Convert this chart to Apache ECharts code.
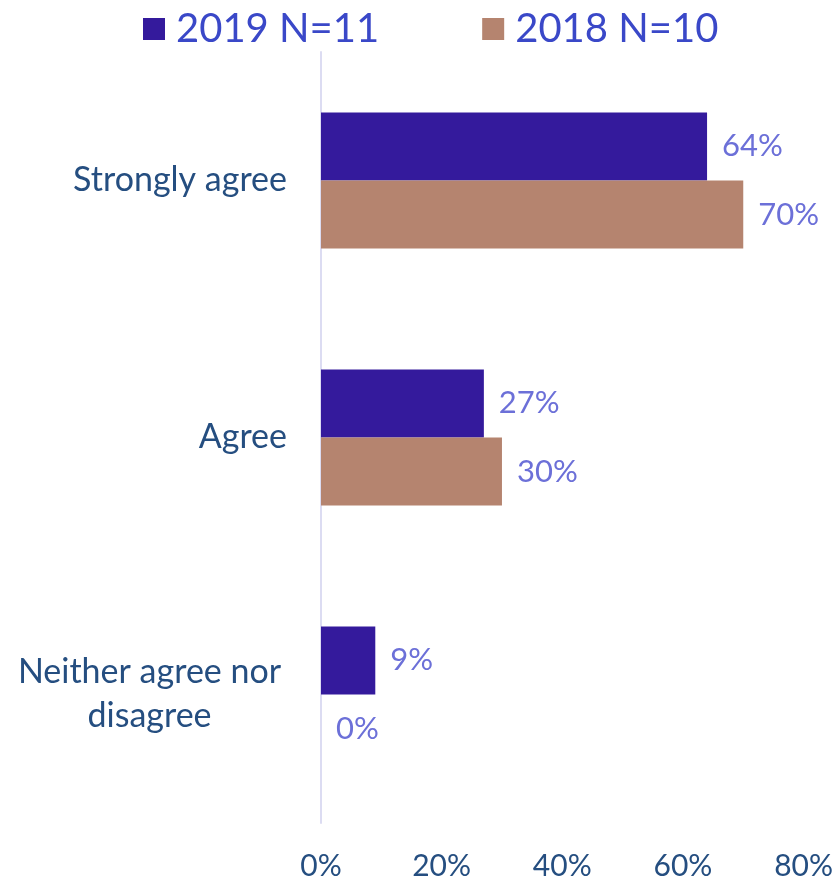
<!DOCTYPE html>
<html>
<head>
<meta charset="utf-8">
<script src="https://cdn.jsdelivr.net/npm/echarts@6/dist/echarts.min.js"></script>
<style>
  html, body { margin: 0; padding: 0; background: #fff; }
  #chart { width: 836px; height: 885px; }
</style>
</head>
<body>
<div id="chart"></div>
<script>
const categories = ['Strongly agree', 'Agree', 'Neither agree nor disagree']
const values2019 = [64, 27, 9]
const values2018 = [70, 30, 0]
const xTicks = [0, 20, 40, 60, 80]

const font = 'Lato'
const chart = echarts.init(document.getElementById('chart'))

function barSeries(name, data, color) {
  return {
    name: name,
    type: 'bar',
    data: data,
    barGap: '0%',
    barCategoryGap: '47%',
    itemStyle: { color: color },
    label: {
      show: true,
      position: 'right',
      distance: 15,
      formatter: '{c}%',
      color: '#6c70d8',
      fontSize: 31,
      fontFamily: font
    }
  }
}

chart.setOption({
  animation: false,
  legend: {
    top: 4,
    left: 138,
    itemWidth: 22,
    itemHeight: 22,
    itemGap: 103,
    icon: 'rect',
    textStyle: { color: '#3a48c8', fontSize: 40, fontFamily: font, padding: [0, 0, 0, 6] }
  },
  grid: { left: 321, right: 31, top: 52, bottom: 62, containLabel: false },
  xAxis: {
    type: 'value',
    min: xTicks[0],
    max: xTicks[xTicks.length - 1],
    interval: 20,
    splitLine: { show: false },
    axisLine: { show: false },
    axisTick: { show: false },
    axisLabel: {
      formatter: '{value}%',
      color: '#254e80',
      fontSize: 30,
      fontFamily: font,
      margin: 28
    }
  },
  yAxis: {
    type: 'category',
    data: categories,
    inverse: true,
    axisLine: { show: true, lineStyle: { color: '#dcdcf2', width: 2 } },
    axisTick: { show: false },
    axisLabel: {
      margin: 34,
      formatter: function (v) {
        if (v === 'Neither agree nor disagree') {
          return '{c|Neither agree nor}\n{c|disagree}'
        }
        return '{n|' + v + '}'
      },
      rich: {
        n: { color: '#254e80', fontSize: 34, fontFamily: font, lineHeight: 44 },
        c: { color: '#254e80', fontSize: 34, fontFamily: font, lineHeight: 44, width: 275, align: 'center' }
      }
    }
  },
  series: [
    barSeries('2019 N=11', values2019, '#341a9c'),
    barSeries('2018 N=10', values2018, '#b5846f')
  ]
})
</script>
</body>
</html>
